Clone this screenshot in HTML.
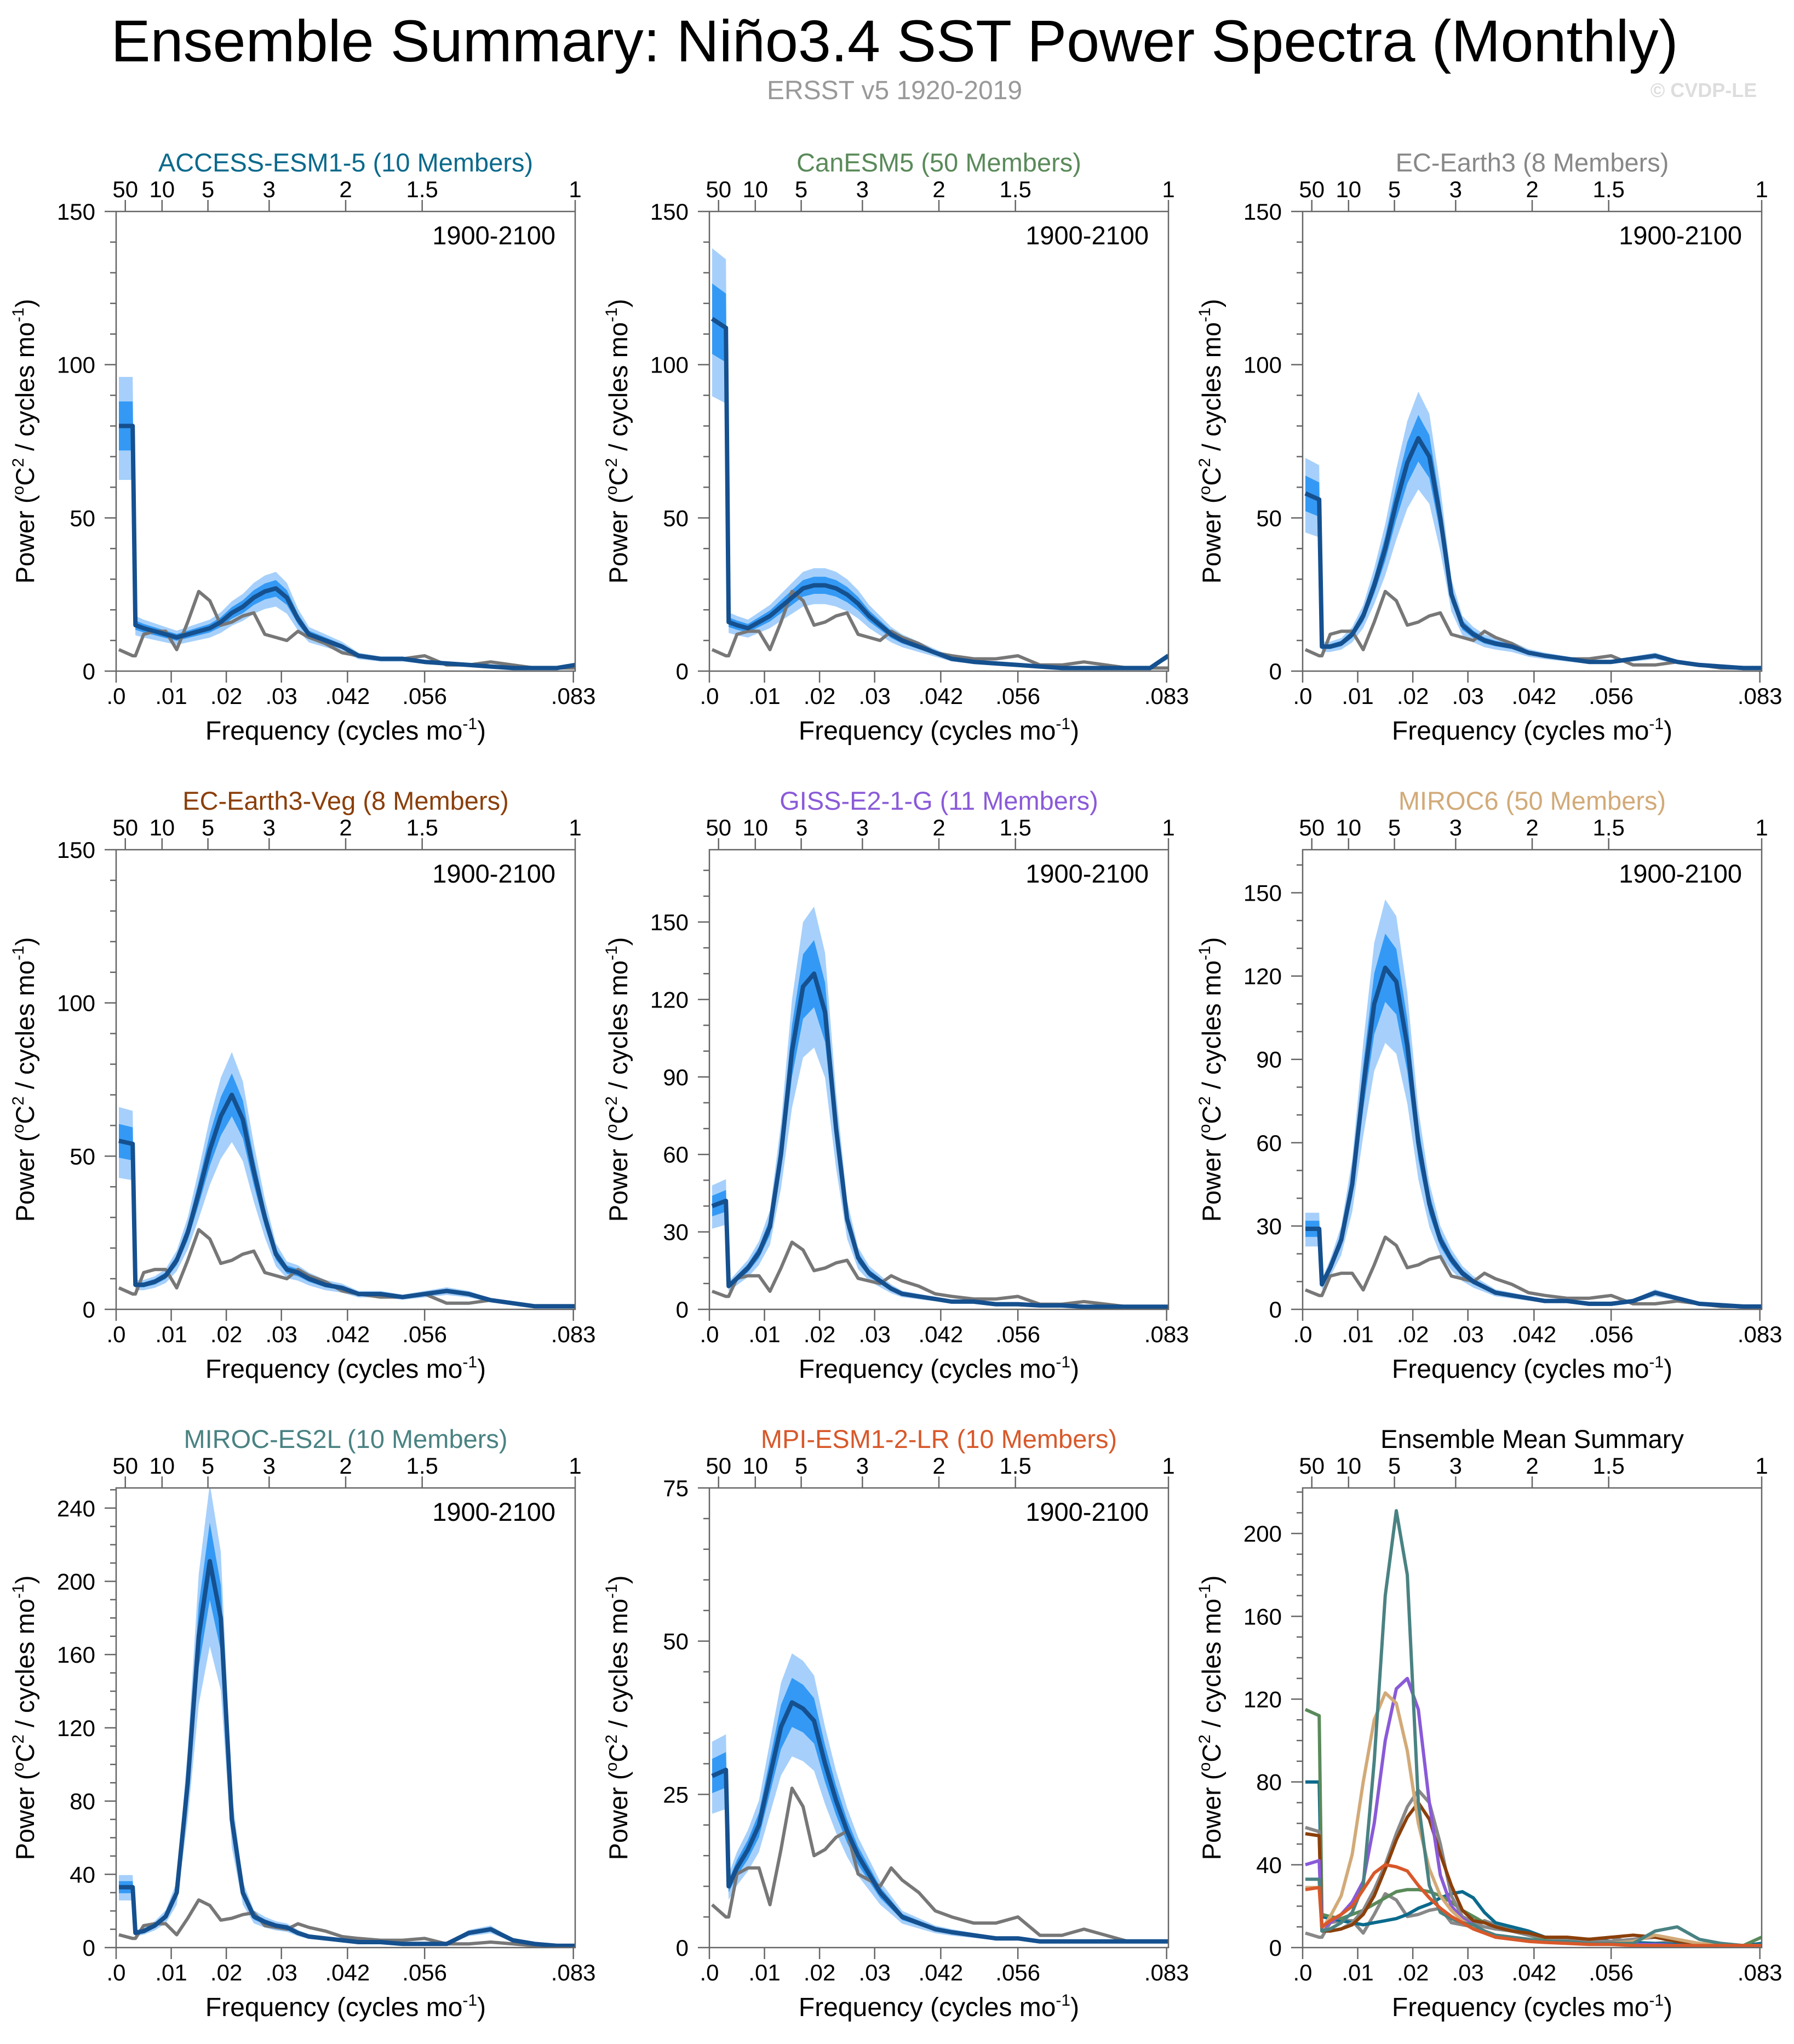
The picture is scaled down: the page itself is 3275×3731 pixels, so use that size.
<!DOCTYPE html>
<html><head><meta charset="utf-8">
<style>
html,body{margin:0;padding:0;background:#fff;}
svg{display:block;font-family:"Liberation Sans",sans-serif;}
</style></head>
<body>
<svg id="chart" xmlns="http://www.w3.org/2000/svg" width="3275" height="3731" viewBox="0 0 3275 3731">
<rect width="3275" height="3731" fill="#fff"/>
<text x="1633" y="112" font-size="108" text-anchor="middle" fill="#000">Ensemble Summary: Niño3.4 SST Power Spectra (Monthly)</text>
<text x="1633" y="181" font-size="48" text-anchor="middle" fill="#999">ERSST v5 1920-2019</text>
<text x="3110" y="177" font-size="36" font-weight="bold" text-anchor="middle" fill="#ddd">© CVDP-LE</text>
<g id="panels"></g>
</svg>
<script>
const freqs = [0.0005,0.003,0.0035,0.005,0.007,0.009,0.011,0.013,0.015,0.017,0.019,0.021,0.023,0.025,0.027,0.029,0.031,0.033,0.035,0.038,0.041,0.044,0.048,0.052,0.056,0.060,0.064,0.068,0.072,0.076,0.080,0.0833];
const obsValues = [7,5,5,12,13,13,7,16,26,23,15,16,18,19,12,11,10,13,11,9,6,5,4,4,5,2,2,3,2,1,1,1];
const meanAccess = [80,80,15,14,13,12,11,12,13,14,16,19,21,24,26,27,24,17,12,10,8,5,4,4,3,2.5,2,1.5,1,1,1,2];
const meanCanesm = [115,112,16,15,14,16,18,21,24,27,28,28,27,25,22,18,15,12,10,8,6,4,3,2.5,2,1.5,1,1,1,1,1,5];
const meanEcearth = [58,56,8,8,9,12,18,28,40,55,68,76,70,50,25,15,12,10,9,8,6,5,4,3,3,4,5,3,2,1.5,1,1];
const meanEcveg = [55,54,8,8,9,11,16,25,38,52,63,70,62,45,30,18,13,12,10,8,7,5,5,4,5,6,5,3,2,1,1,1];
const meanGiss = [40,42,9,12,16,22,32,60,100,125,130,115,70,35,20,14,11,8,6,5,4,3,3,2,2,1.5,1.5,1,1,1,1,1];
const meanMiroc6 = [29,29,9,15,25,45,80,110,123,118,95,60,38,25,18,13,10,8,6,5,4,3,3,2,2,3,6,4,2,1.5,1,1];
const meanMirocEs2l = [33,33,8,9,12,17,30,90,170,211,180,70,30,17,14,12,11,8,6,5,4,3,3,2,2,2,8,10,4,2,1,1];
const meanMpi = [28,29,10,13,16,20,28,36,40,39,37,30,24,19,15,12,9,7,5,4,3,2.5,2,1.5,1.5,1,1,1,1,1,1,1];
const modelNames = ["ACCESS-ESM1-5 (10 Members)","CanESM5 (50 Members)","EC-Earth3 (8 Members)","EC-Earth3-Veg (8 Members)","GISS-E2-1-G (11 Members)","MIROC6 (50 Members)","MIROC-ES2L (10 Members)","MPI-ESM1-2-LR (10 Members)"];
const modelColors = ["#0b6a8c","#5a8a5a","#888888","#8b3f0a","#8a5ad8","#d2aa78","#4a8282","#d8582a"];
const xTickVals = [0,0.01,0.02,0.03,0.042,0.056,0.083];
const xTickLabels = [".0",".01",".02",".03",".042",".056",".083"];
const periodVals = [50,10,5,3,2,1.5,1];
const periodLabels = ["50","10","5","3","2","1.5","1"];
const yMaxes = [150,150,150,150,178,165.5,251,75,222];
const yMajorSteps = [50,50,50,50,30,30,40,25,40];
const yMinorSteps = [10,10,10,10,10,10,10,5,10];

const allMeans = [meanAccess,meanCanesm,meanEcearth,meanEcveg,meanGiss,meanMiroc6,meanMirocEs2l,meanMpi];
const NS = "http://www.w3.org/2000/svg";
const root = document.getElementById("panels");
const PW = 838, PH = 839, FMAX = 0.08333;
function mk(tag, attrs, parent){const e=document.createElementNS(NS,tag);for(const k in attrs)e.setAttribute(k,attrs[k]);parent.appendChild(e);return e;}

function drawPanel(i){
  const col=i%3, row=Math.floor(i/3);
  const L=212+col*1083, T=386+row*1165, B=T+PH, R=L+PW;
  const ymax=yMaxes[i];
  const xs=f=>L+f/FMAX*PW;
  const ys=v=>B-v/ymax*PH;
  const g=mk("g",{},root);
  
  
  const isSummary = i===8;
  const tt=mk("text",{x:(L+R)/2,y:T-73,"font-size":47,"text-anchor":"middle",fill:isSummary?"#000":modelColors[i]},g);
  tt.textContent=isSummary?"Ensemble Mean Summary":modelNames[i];
  
  
  const cp=mk("clipPath",{id:"clip"+i},g);
  mk("rect",{x:L,y:T,width:PW,height:PH},cp);
  const plot=mk("g",{"clip-path":"url(#clip"+i+")"},g);
  function linePath(vals){return vals.map((v,k)=>(k?"L":"M")+xs(freqs[k]).toFixed(1)+","+ys(v).toFixed(1)).join(" ");}
  function bandPath(lo,hi){
    let d=hi.map((v,k)=>(k?"L":"M")+xs(freqs[k]).toFixed(1)+","+ys(v).toFixed(1)).join(" ");
    for(let k=lo.length-1;k>=0;k--)d+=" L"+xs(freqs[k]).toFixed(1)+","+ys(lo[k]).toFixed(1);
    return d+" Z";
  }
  if(!isSummary){
    const m=allMeans[i];
    const o=mk("path",{d:bandPath(m.map(v=>v*0.78),m.map(v=>v*1.2)),fill:"#a6d0fb"},plot);
    
    
    const inn=mk("path",{d:bandPath(m.map(v=>v*0.9),m.map(v=>v*1.1)),fill:"#3399f5"},plot);
    
    
    const ob=mk("path",{d:linePath(obsValues),fill:"none",stroke:"#777","stroke-width":6,"stroke-linejoin":"round"},plot);
    
    
    const ml=mk("path",{d:linePath(m),fill:"none",stroke:"#15508f","stroke-width":8,"stroke-linejoin":"round"},plot);
    
    
    const pr=mk("text",{x:R-36,y:T+60,"font-size":47,"text-anchor":"end",fill:"#000"},g);
    pr.textContent="1900-2100";
    
    
  } else {
    const ob=mk("path",{d:linePath(obsValues),fill:"none",stroke:"#888","stroke-width":6,"stroke-linejoin":"round"},plot);
    
    
    allMeans.forEach((m,k)=>{
      const p=mk("path",{d:linePath(m),fill:"none",stroke:modelColors[k],"stroke-width":6,"stroke-linejoin":"round"},plot);
      
      
    });
  }
  const fr=mk("rect",{x:L,y:T,width:PW,height:PH,fill:"none",stroke:"#666","stroke-width":2.5},g);
  
  
  for(let v=0; v<=ymax+0.01; v+=yMinorSteps[i]){
    const major=Math.abs(v/yMajorSteps[i]-Math.round(v/yMajorSteps[i]))<1e-6;
    mk("line",{x1:L,x2:L-(major?21:11),y1:ys(v),y2:ys(v),stroke:"#666","stroke-width":2.5},g);
    if(major){
      const t=mk("text",{x:L-38,y:ys(v)+15,"font-size":42,"text-anchor":"end",fill:"#000"},g);
      t.textContent=String(v);
      
      
    }
  }
  xTickVals.forEach((f,k)=>{
    mk("line",{x1:xs(f),x2:xs(f),y1:B,y2:B+21,stroke:"#666","stroke-width":2.5},g);
    const t=mk("text",{x:xs(f),y:B+60,"font-size":42,"text-anchor":"middle",fill:"#000"},g);
    t.textContent=xTickLabels[k];
    
    
  });
  periodVals.forEach((p,k)=>{
    const x=xs(1/(p*12));
    mk("line",{x1:x,x2:x,y1:T,y2:T-21,stroke:"#666","stroke-width":2.5},g);
    const t=mk("text",{x:x,y:T-26,"font-size":42,"text-anchor":"middle",fill:"#000"},g);
    t.textContent=periodLabels[k];
    
    
  });
  const xt=mk("text",{x:(L+R)/2,y:B+125,"font-size":48,"text-anchor":"middle",fill:"#000"},g);
  xt.innerHTML='Frequency (cycles mo<tspan dy="-19" font-size="30">-1</tspan><tspan dy="19">)</tspan>';
  
  
  const yt=mk("text",{x:0,y:0,"font-size":47,"text-anchor":"middle",fill:"#000",transform:"translate("+(L-150)+","+(T+PH/2)+") rotate(-90)"},g);
  yt.innerHTML='Power (<tspan dy="-19" font-size="30">o</tspan><tspan dy="19">C</tspan><tspan dy="-19" font-size="30">2</tspan><tspan dy="19"> / cycles mo</tspan><tspan dy="-19" font-size="30">-1</tspan><tspan dy="19">)</tspan>';
  
  
}
for(let i=0;i<9;i++) drawPanel(i);
</script>
</body></html>
